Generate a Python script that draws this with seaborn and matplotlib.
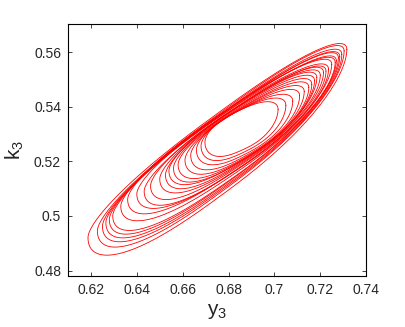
import matplotlib
matplotlib.use("Agg")
import matplotlib.pyplot as plt
import numpy as np
import pandas as pd
import seaborn as sns

# loops, outermost -> innermost
# lower-left tip of each loop
lo_y3 = [0.6187, 0.6228, 0.6250, 0.6265, 0.6280, 0.6295, 0.6330, 0.6360, 0.6400, 0.6432, 0.6460,
         0.6500, 0.6525, 0.6540, 0.6560, 0.6580, 0.6610, 0.6635, 0.6660, 0.6680, 0.6697]
lo_k3 = [0.4920, 0.4945, 0.4962, 0.4975, 0.4987, 0.5000, 0.5035, 0.5060, 0.5080, 0.5090, 0.5110,
         0.5135, 0.5150, 0.5165, 0.5175, 0.5188, 0.5205, 0.5222, 0.5242, 0.5256, 0.5270]
# upper-right tip of each loop
hi_y3 = [0.7316, 0.7304, 0.7294, 0.7285, 0.7279, 0.7270, 0.7265, 0.7250, 0.7236, 0.7225, 0.7214,
         0.7200, 0.7185, 0.7175, 0.7163, 0.7150, 0.7130, 0.7110, 0.7080, 0.7050, 0.7016]
hi_k3 = [0.5610, 0.5604, 0.5591, 0.5583, 0.5579, 0.5568, 0.5562, 0.5555, 0.5537, 0.5530, 0.5525,
         0.5515, 0.5506, 0.5495, 0.5482, 0.5470, 0.5455, 0.5440, 0.5420, 0.5405, 0.5390]
# how far each loop bulges above / below its tip-to-tip line (in k3)
bulge_up = [0.0110, 0.0104, 0.0101, 0.0097, 0.0096, 0.0092, 0.0091, 0.0088, 0.0087, 0.0084, 0.0083,
            0.0080, 0.0079, 0.0076, 0.0075, 0.0072, 0.0071, 0.0068, 0.0066, 0.0063, 0.0060]
bulge_dn = [0.0200, 0.0188, 0.0180, 0.0175, 0.0170, 0.0166, 0.0160, 0.0155, 0.0150, 0.0145, 0.0140,
            0.0136, 0.0132, 0.0128, 0.0125, 0.0121, 0.0117, 0.0112, 0.0106, 0.0098, 0.0090]

x_ticks = [0.62, 0.64, 0.66, 0.68, 0.70, 0.72, 0.74]
x_labels = ["0.62", "0.64", "0.66", "0.68", "0.7", "0.72", "0.74"]
y_ticks = [0.48, 0.50, 0.52, 0.54, 0.56]
y_labels = ["0.48", "0.5", "0.52", "0.54", "0.56"]

BLUNT = 0.8  # <1 gives rounder loop ends


def build_loops() -> pd.DataFrame:
    t = np.linspace(0, 2 * np.pi, 500)
    c, s = np.cos(t), np.sin(t)
    g = np.sign(c) * np.abs(c) ** BLUNT
    frames = []
    for i in range(len(lo_y3)):
        cx, ux = (lo_y3[i] + hi_y3[i]) / 2, (hi_y3[i] - lo_y3[i]) / 2
        cy, uy = (lo_k3[i] + hi_k3[i]) / 2, (hi_k3[i] - lo_k3[i]) / 2
        w = np.where(s > 0, bulge_up[i], bulge_dn[i])
        frames.append(pd.DataFrame({
            "y3": cx + ux * g,
            "k3": cy + uy * g + w * s,
            "loop": i,
        }))
    return pd.concat(frames, ignore_index=True)


def main() -> None:
    sns.set_style("ticks")
    plt.rcParams["font.family"] = ["Liberation Sans", "DejaVu Sans"]

    df = build_loops()
    fig = plt.figure(figsize=(4.05, 3.27), dpi=100)
    ax = fig.add_axes([0.168, 0.156, 0.736, 0.771])
    sns.lineplot(data=df, x="y3", y="k3", units="loop", estimator=None, sort=False,
                 color="red", linewidth=0.6, ax=ax)

    ax.set_xlim(0.61, 0.74)
    ax.set_ylim(0.478, 0.5703)
    ax.set_xticks(x_ticks)
    ax.set_xticklabels(x_labels)
    ax.set_yticks(y_ticks)
    ax.set_yticklabels(y_labels)
    ax.tick_params(direction="in", length=3, width=0.6, labelsize=10, top=True, right=True, pad=5)
    for s in ax.spines.values():
        s.set_visible(True)
        s.set_linewidth(0.8)
        s.set_color("black")
    ax.set_xlabel(r"$\mathregular{y_3}$", fontsize=15, labelpad=4)
    ax.set_ylabel(r"$\mathregular{k_3}$", fontsize=15, labelpad=6)

    fig.savefig("out.png", dpi=100)
    plt.close(fig)


if __name__ == "__main__":
    main()
